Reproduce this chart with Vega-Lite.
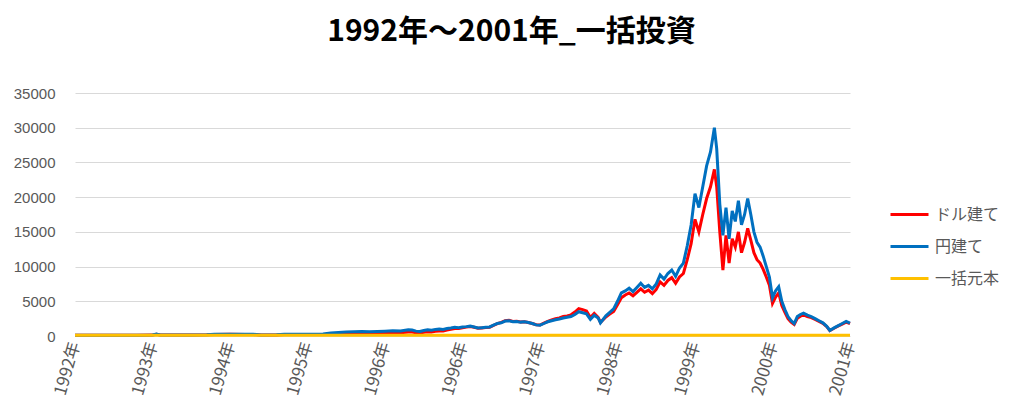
{
  "$schema": "https://vega.github.io/schema/vega-lite/v6.json",
  "width": 775,
  "height": 243,
  "autosize": {"type": "none"},
  "padding": {"left": 75, "top": 93, "right": 174, "bottom": 82},
  "background": "#ffffff",
  "title": {
    "text": "1992年～2001年_一括投資",
    "font": "Noto Sans CJK JP",
    "fontSize": 30,
    "fontWeight": "bold",
    "color": "#000000",
    "anchor": "middle",
    "offset": 39,
    "dx": 49
  },
  "data": {
    "values": [
      {"t": 0, "usd": 95, "jpy": 100, "base": 100},
      {"t": 0.2, "usd": 100, "jpy": 105, "base": 100},
      {"t": 0.4, "usd": 105, "jpy": 110, "base": 100},
      {"t": 0.6, "usd": 108, "jpy": 115, "base": 100},
      {"t": 0.8, "usd": 112, "jpy": 120, "base": 100},
      {"t": 1.0, "usd": 130, "jpy": 140, "base": 100},
      {"t": 1.05, "usd": 260, "jpy": 290, "base": 100},
      {"t": 1.1, "usd": 140, "jpy": 150, "base": 100},
      {"t": 1.3, "usd": 130, "jpy": 140, "base": 100},
      {"t": 1.5, "usd": 150, "jpy": 160, "base": 100},
      {"t": 1.7, "usd": 165, "jpy": 180, "base": 100},
      {"t": 1.8, "usd": 225, "jpy": 250, "base": 100},
      {"t": 2.0, "usd": 235, "jpy": 260, "base": 100},
      {"t": 2.2, "usd": 215, "jpy": 240, "base": 100},
      {"t": 2.3, "usd": 220, "jpy": 250, "base": 100},
      {"t": 2.4, "usd": 140, "jpy": 160, "base": 100},
      {"t": 2.6, "usd": 150, "jpy": 170, "base": 100},
      {"t": 2.7, "usd": 220, "jpy": 260, "base": 100},
      {"t": 2.9, "usd": 210, "jpy": 250, "base": 100},
      {"t": 3.1, "usd": 200, "jpy": 270, "base": 100},
      {"t": 3.2, "usd": 210, "jpy": 300, "base": 100},
      {"t": 3.3, "usd": 260, "jpy": 420, "base": 100},
      {"t": 3.4, "usd": 300, "jpy": 500, "base": 100},
      {"t": 3.5, "usd": 330, "jpy": 560, "base": 100},
      {"t": 3.6, "usd": 360, "jpy": 600, "base": 100},
      {"t": 3.7, "usd": 380, "jpy": 640, "base": 100},
      {"t": 3.8, "usd": 380, "jpy": 620, "base": 100},
      {"t": 3.9, "usd": 400, "jpy": 660, "base": 100},
      {"t": 4.0, "usd": 430, "jpy": 700, "base": 100},
      {"t": 4.1, "usd": 470, "jpy": 760, "base": 100},
      {"t": 4.2, "usd": 460, "jpy": 720, "base": 100},
      {"t": 4.3, "usd": 580, "jpy": 900, "base": 100},
      {"t": 4.35, "usd": 560, "jpy": 850, "base": 100},
      {"t": 4.4, "usd": 470, "jpy": 700, "base": 100},
      {"t": 4.45, "usd": 440, "jpy": 650, "base": 100},
      {"t": 4.5, "usd": 550, "jpy": 800, "base": 100},
      {"t": 4.55, "usd": 620, "jpy": 900, "base": 100},
      {"t": 4.6, "usd": 590, "jpy": 830, "base": 100},
      {"t": 4.65, "usd": 680, "jpy": 950, "base": 100},
      {"t": 4.7, "usd": 730, "jpy": 1000, "base": 100},
      {"t": 4.75, "usd": 720, "jpy": 950, "base": 100},
      {"t": 4.8, "usd": 850, "jpy": 1080, "base": 100},
      {"t": 4.85, "usd": 950, "jpy": 1150, "base": 100},
      {"t": 4.9, "usd": 1080, "jpy": 1250, "base": 100},
      {"t": 4.95, "usd": 1080, "jpy": 1200, "base": 100},
      {"t": 5.0, "usd": 1200, "jpy": 1300, "base": 100},
      {"t": 5.05, "usd": 1280, "jpy": 1350, "base": 100},
      {"t": 5.1, "usd": 1360, "jpy": 1420, "base": 100},
      {"t": 5.15, "usd": 1250, "jpy": 1300, "base": 100},
      {"t": 5.2, "usd": 1110, "jpy": 1150, "base": 100},
      {"t": 5.25, "usd": 1160, "jpy": 1200, "base": 100},
      {"t": 5.3, "usd": 1210, "jpy": 1250, "base": 100},
      {"t": 5.35, "usd": 1270, "jpy": 1300, "base": 100},
      {"t": 5.4, "usd": 1520, "jpy": 1550, "base": 100},
      {"t": 5.45, "usd": 1780, "jpy": 1800, "base": 100},
      {"t": 5.5, "usd": 1950, "jpy": 1900, "base": 100},
      {"t": 5.55, "usd": 2200, "jpy": 2150, "base": 100},
      {"t": 5.6, "usd": 2250, "jpy": 2200, "base": 100},
      {"t": 5.65, "usd": 2080, "jpy": 2050, "base": 100},
      {"t": 5.7, "usd": 2120, "jpy": 2100, "base": 100},
      {"t": 5.75, "usd": 2010, "jpy": 2000, "base": 100},
      {"t": 5.8, "usd": 2060, "jpy": 2050, "base": 100},
      {"t": 5.85, "usd": 1950, "jpy": 1950, "base": 100},
      {"t": 5.9, "usd": 1800, "jpy": 1800, "base": 100},
      {"t": 5.95, "usd": 1620, "jpy": 1600, "base": 100},
      {"t": 6.0, "usd": 1580, "jpy": 1550, "base": 100},
      {"t": 6.05, "usd": 1850, "jpy": 1800, "base": 100},
      {"t": 6.1, "usd": 2120, "jpy": 2050, "base": 100},
      {"t": 6.15, "usd": 2300, "jpy": 2200, "base": 100},
      {"t": 6.2, "usd": 2480, "jpy": 2350, "base": 100},
      {"t": 6.25, "usd": 2600, "jpy": 2450, "base": 100},
      {"t": 6.3, "usd": 2800, "jpy": 2600, "base": 100},
      {"t": 6.35, "usd": 2900, "jpy": 2700, "base": 100},
      {"t": 6.4, "usd": 3050, "jpy": 2800, "base": 100},
      {"t": 6.45, "usd": 3450, "jpy": 3100, "base": 100},
      {"t": 6.5, "usd": 3950, "jpy": 3500, "base": 100},
      {"t": 6.55, "usd": 3800, "jpy": 3350, "base": 100},
      {"t": 6.6, "usd": 3600, "jpy": 3200, "base": 100},
      {"t": 6.65, "usd": 2650, "jpy": 2400, "base": 100},
      {"t": 6.7, "usd": 3250, "jpy": 3000, "base": 100},
      {"t": 6.75, "usd": 2700, "jpy": 2600, "base": 100},
      {"t": 6.78, "usd": 1950, "jpy": 1900, "base": 100},
      {"t": 6.85, "usd": 2750, "jpy": 2900, "base": 100},
      {"t": 6.9, "usd": 3150, "jpy": 3400, "base": 100},
      {"t": 6.95, "usd": 3550, "jpy": 3900, "base": 100},
      {"t": 7.0, "usd": 4500, "jpy": 5000, "base": 100},
      {"t": 7.05, "usd": 5500, "jpy": 6200, "base": 100},
      {"t": 7.1, "usd": 5900, "jpy": 6500, "base": 100},
      {"t": 7.15, "usd": 6200, "jpy": 6900, "base": 100},
      {"t": 7.2, "usd": 5800, "jpy": 6400, "base": 100},
      {"t": 7.25, "usd": 6300, "jpy": 7000, "base": 100},
      {"t": 7.3, "usd": 6800, "jpy": 7600, "base": 100},
      {"t": 7.35, "usd": 6300, "jpy": 7000, "base": 100},
      {"t": 7.4, "usd": 6600, "jpy": 7300, "base": 100},
      {"t": 7.45, "usd": 6100, "jpy": 6800, "base": 100},
      {"t": 7.5, "usd": 6700, "jpy": 7500, "base": 100},
      {"t": 7.55, "usd": 7800, "jpy": 8800, "base": 100},
      {"t": 7.6, "usd": 7300, "jpy": 8200, "base": 100},
      {"t": 7.65, "usd": 8000, "jpy": 9000, "base": 100},
      {"t": 7.7, "usd": 8400, "jpy": 9500, "base": 100},
      {"t": 7.75, "usd": 7600, "jpy": 8600, "base": 100},
      {"t": 7.8, "usd": 8500, "jpy": 9800, "base": 100},
      {"t": 7.85, "usd": 9000, "jpy": 10500, "base": 100},
      {"t": 7.9, "usd": 11000, "jpy": 13000, "base": 100},
      {"t": 7.95, "usd": 13300, "jpy": 16000, "base": 100},
      {"t": 8.0, "usd": 16800, "jpy": 20500, "base": 100},
      {"t": 8.05, "usd": 15000, "jpy": 18500, "base": 100},
      {"t": 8.1, "usd": 17500, "jpy": 21500, "base": 100},
      {"t": 8.15, "usd": 19800, "jpy": 24500, "base": 100},
      {"t": 8.2, "usd": 21500, "jpy": 26500, "base": 100},
      {"t": 8.25, "usd": 24000, "jpy": 30000, "base": 100},
      {"t": 8.28, "usd": 21500, "jpy": 27000, "base": 100},
      {"t": 8.32, "usd": 15000, "jpy": 19000, "base": 100},
      {"t": 8.36, "usd": 9500, "jpy": 14500, "base": 100},
      {"t": 8.4, "usd": 14500, "jpy": 18500, "base": 100},
      {"t": 8.44, "usd": 10500, "jpy": 14000, "base": 100},
      {"t": 8.48, "usd": 14000, "jpy": 18000, "base": 100},
      {"t": 8.52, "usd": 12800, "jpy": 16500, "base": 100},
      {"t": 8.56, "usd": 15000, "jpy": 19500, "base": 100},
      {"t": 8.6, "usd": 12000, "jpy": 16000, "base": 100},
      {"t": 8.64, "usd": 13500, "jpy": 17500, "base": 100},
      {"t": 8.68, "usd": 15500, "jpy": 19800, "base": 100},
      {"t": 8.72, "usd": 13800, "jpy": 17500, "base": 100},
      {"t": 8.76, "usd": 12000, "jpy": 15000, "base": 100},
      {"t": 8.8, "usd": 11000, "jpy": 13500, "base": 100},
      {"t": 8.84, "usd": 10500, "jpy": 12800, "base": 100},
      {"t": 8.88, "usd": 9600, "jpy": 11500, "base": 100},
      {"t": 8.92, "usd": 8500, "jpy": 10000, "base": 100},
      {"t": 8.96, "usd": 7300, "jpy": 8500, "base": 100},
      {"t": 9.0, "usd": 4700, "jpy": 5500, "base": 100},
      {"t": 9.04, "usd": 5600, "jpy": 6500, "base": 100},
      {"t": 9.08, "usd": 6200, "jpy": 7100, "base": 100},
      {"t": 9.12, "usd": 4400, "jpy": 5000, "base": 100},
      {"t": 9.16, "usd": 3400, "jpy": 3800, "base": 100},
      {"t": 9.2, "usd": 2500, "jpy": 2800, "base": 100},
      {"t": 9.24, "usd": 2000, "jpy": 2200, "base": 100},
      {"t": 9.28, "usd": 1650, "jpy": 1800, "base": 100},
      {"t": 9.32, "usd": 2550, "jpy": 2800, "base": 100},
      {"t": 9.36, "usd": 2850, "jpy": 3100, "base": 100},
      {"t": 9.4, "usd": 3050, "jpy": 3300, "base": 100},
      {"t": 9.45, "usd": 2800, "jpy": 3000, "base": 100},
      {"t": 9.5, "usd": 2650, "jpy": 2800, "base": 100},
      {"t": 9.55, "usd": 2380, "jpy": 2500, "base": 100},
      {"t": 9.6, "usd": 2100, "jpy": 2200, "base": 100},
      {"t": 9.65, "usd": 1820, "jpy": 1900, "base": 100},
      {"t": 9.7, "usd": 1350, "jpy": 1400, "base": 100},
      {"t": 9.74, "usd": 780, "jpy": 800, "base": 100},
      {"t": 9.8, "usd": 1150, "jpy": 1200, "base": 100},
      {"t": 9.85, "usd": 1450, "jpy": 1500, "base": 100},
      {"t": 9.9, "usd": 1720, "jpy": 1800, "base": 100},
      {"t": 9.95, "usd": 2000, "jpy": 2100, "base": 100},
      {"t": 10.0, "usd": 1780, "jpy": 1850, "base": 100}
    ]
  },
  "encoding": {
    "x": {
      "field": "t",
      "type": "quantitative",
      "scale": {"domain": [0, 10], "nice": false, "zero": false},
      "axis": {
        "title": null,
        "values": [0, 1, 2, 3, 4, 5, 6, 7, 8, 9, 10],
        "labelExpr": "['1992年','1993年','1994年','1995年','1996年','1996年','1997年','1998年','1999年','2000年','2001年'][datum.value]",
        "labelAngle": -74,
        "labelFont": "Noto Sans CJK JP",
        "labelFontSize": 17,
        "labelColor": "#595959",
        "labelPadding": 6,
        "grid": false,
        "domain": false,
        "ticks": false,
        "labelFlush": false,
        "labelOverlap": false
      }
    }
  },
  "layer": [
    {
      "mark": {"type": "line", "strokeWidth": 3, "interpolate": "linear"},
      "encoding": {
        "y": {
          "field": "usd",
          "type": "quantitative",
          "scale": {"domain": [0, 35000], "nice": false},
          "axis": {
            "title": null,
            "values": [0, 5000, 10000, 15000, 20000, 25000, 30000, 35000],
            "format": "d",
            "labelFont": "Liberation Sans",
            "labelFontSize": 15,
            "labelColor": "#595959",
            "labelPadding": 20,
            "labelOverlap": false,
            "grid": true,
            "gridColor": "#d9d9d9",
            "gridWidth": 1,
            "domain": false,
            "ticks": false
          }
        },
        "color": {
          "datum": "ドル建て",
          "type": "nominal",
          "scale": {
            "domain": ["ドル建て", "円建て", "一括元本"],
            "range": ["#ff0000", "#0070c0", "#ffc000"]
          },
          "legend": {
            "title": null,
            "orient": "none",
            "legendX": 814,
            "legendY": 101,
            "symbolType": "stroke",
            "symbolSize": 1444,
            "symbolStrokeWidth": 3,
            "labelFont": "Noto Sans CJK JP",
            "labelFontSize": 16,
            "labelColor": "#595959",
            "labelOffset": 5,
            "rowPadding": 3,
            "padding": 0
          }
        }
      }
    },
    {
      "mark": {"type": "line", "strokeWidth": 3, "interpolate": "linear"},
      "encoding": {
        "y": {
          "field": "jpy",
          "type": "quantitative",
          "axis": {
            "title": null,
            "values": [0, 5000, 10000, 15000, 20000, 25000, 30000, 35000],
            "format": "d",
            "labelFont": "Liberation Sans",
            "labelFontSize": 15,
            "labelColor": "#595959",
            "labelPadding": 20,
            "labelOverlap": false,
            "grid": true,
            "gridColor": "#d9d9d9",
            "gridWidth": 1,
            "domain": false,
            "ticks": false
          }
        },
        "color": {"datum": "円建て", "type": "nominal"}
      }
    },
    {
      "mark": {"type": "line", "strokeWidth": 3},
      "encoding": {
        "y": {
          "field": "base",
          "type": "quantitative",
          "axis": {
            "title": null,
            "values": [0, 5000, 10000, 15000, 20000, 25000, 30000, 35000],
            "format": "d",
            "labelFont": "Liberation Sans",
            "labelFontSize": 15,
            "labelColor": "#595959",
            "labelPadding": 20,
            "labelOverlap": false,
            "grid": true,
            "gridColor": "#d9d9d9",
            "gridWidth": 1,
            "domain": false,
            "ticks": false
          }
        },
        "color": {"datum": "一括元本", "type": "nominal"}
      }
    }
  ],
  "config": {
    "view": {"stroke": null}
  }
}
